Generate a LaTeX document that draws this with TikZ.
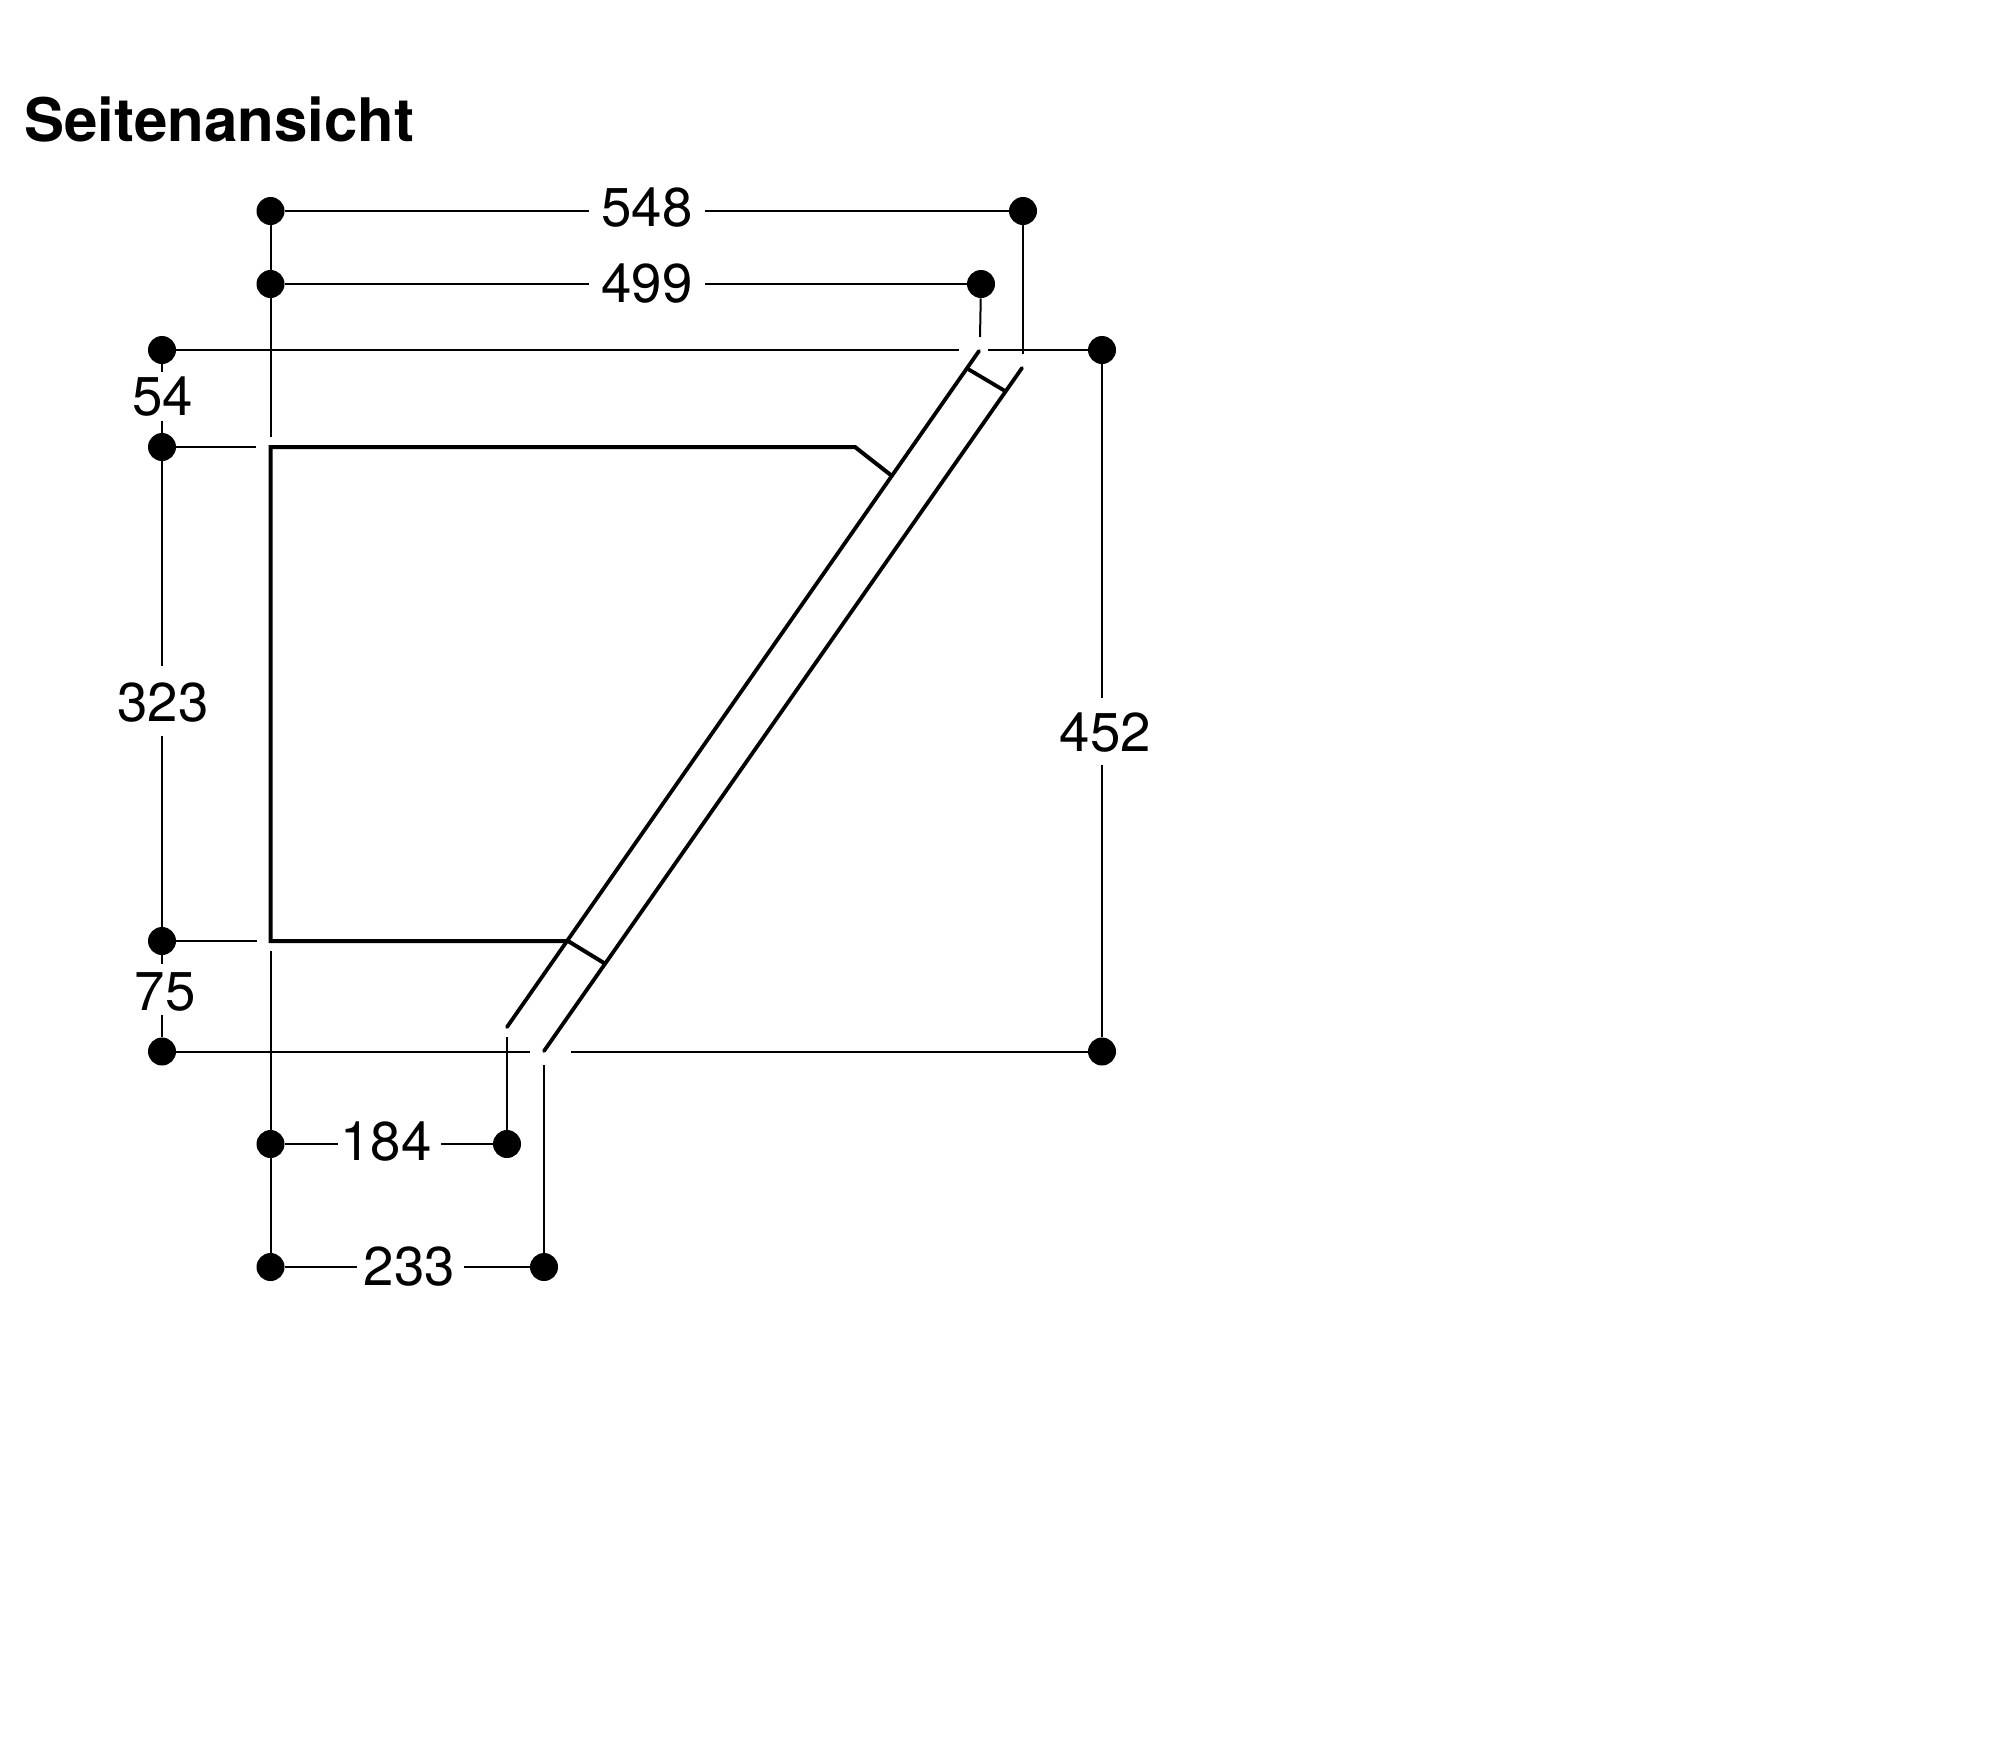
\documentclass[tikz,border=0pt]{standalone}
\usepackage{fontspec}
\setmainfont{TeX Gyre Heros}
\begin{document}
\begin{tikzpicture}[x=0.5pt,y=-0.5pt,
  dot/.style={circle,fill=black,draw=none,inner sep=0pt,minimum size=14pt},
  dim/.style={line width=1pt,black},
  outline/.style={line width=2pt,black,line join=miter},
  wall/.style={line width=1.9pt,black,line cap=round},
  val/.style={inner sep=0pt,font=\fontsize{27.3}{30}\selectfont},
  heading/.style={inner sep=0pt,anchor=base west,font=\fontsize{30}{34}\selectfont\bfseries}]
\useasboundingbox (0,0) rectangle (2000,1762);
\node[heading] (title) at (24,141) {Seitenansicht};
% dots
\node[dot] (a1) at (270.5,211) {};
\node[dot] (a2) at (1023,211) {};
\node[dot] (b1) at (270.5,284) {};
\node[dot] (b2) at (981,284) {};
\node[dot] (c1) at (162,350) {};
\node[dot] (c2) at (1102,350) {};
\node[dot] (d1) at (162,447) {};
\node[dot] (e1) at (162,941) {};
\node[dot] (f1) at (162,1051.5) {};
\node[dot] (f2) at (1102,1051.5) {};
\node[dot] (g1) at (270.5,1144) {};
\node[dot] (g2) at (507,1144) {};
\node[dot] (h1) at (270.5,1267) {};
\node[dot] (h2) at (544,1267) {};
% labels
\node[val] (l548) at (647,208) {548};
\node[val] (l499) at (647,283.5) {499};
\node[val] (l54) at (162.5,397) {54};
\node[val] (l323) at (163,703) {323};
\node[val] (l75) at (165,992) {75};
\node[val] (l452) at (1105.5,733) {452};
\node[val] (l184) at (386,1142) {184};
\node[val] (l233) at (409.5,1267) {233};
% free ends
\coordinate (a1e) at (589,211);
\coordinate (a2e) at (705,211);
\coordinate (b1e) at (589,284);
\coordinate (b2e) at (705,284);
\coordinate (c1e) at (959,350);
\coordinate (c2e) at (988,350);
\coordinate (vA) at (270.5,437);
\coordinate (vB) at (270.5,951);
\coordinate (v548) at (1023,354);
\coordinate (v499) at (980,337);
\coordinate (d1e) at (256,447);
\coordinate (e1e) at (257,941);
\coordinate (f1e) at (530,1051.5);
\coordinate (f2e) at (571,1051.5);
\coordinate (v184) at (507,1037);
\coordinate (v233) at (544,1065);
\coordinate (g1e) at (338,1144);
\coordinate (g2e) at (441,1144);
\coordinate (h1e) at (357,1267);
\coordinate (h2e) at (464,1267);
\coordinate (s54a) at (162,372);
\coordinate (s54b) at (162,421);
\coordinate (s323a) at (162,666);
\coordinate (s323b) at (162,736);
\coordinate (s75a) at (162,964);
\coordinate (s75b) at (162,1015);
\coordinate (s452a) at (1102,698);
\coordinate (s452b) at (1102,765);
% dimension lines
\draw[dim] (a1) -- (a1e);
\draw[dim] (a2e) -- (a2);
\draw[dim] (b1) -- (b1e);
\draw[dim] (b2e) -- (b2);
\draw[dim] (c1) -- (c1e);
\draw[dim] (c2e) -- (c2);
\draw[dim] (a1) -- (vA);
\draw[dim] (vB) -- (h1);
\draw[dim] (a2) -- (v548);
\draw[dim] (b2) -- (v499);
\draw[dim] (d1) -- (d1e);
\draw[dim] (e1) -- (e1e);
\draw[dim] (f1) -- (f1e);
\draw[dim] (f2e) -- (f2);
\draw[dim] (v184) -- (g2);
\draw[dim] (v233) -- (h2);
\draw[dim] (g1) -- (g1e);
\draw[dim] (g2e) -- (g2);
\draw[dim] (h1) -- (h1e);
\draw[dim] (h2e) -- (h2);
\draw[dim] (c1) -- (s54a);
\draw[dim] (s54b) -- (d1);
\draw[dim] (d1) -- (s323a);
\draw[dim] (s323b) -- (e1);
\draw[dim] (e1) -- (s75a);
\draw[dim] (s75b) -- (f1);
\draw[dim] (c2) -- (s452a);
\draw[dim] (s452b) -- (f2);
% body outline
\coordinate (p1) at (270.5,447);
\coordinate (p2) at (855,447);
\coordinate (p3) at (892,476);
\coordinate (p4) at (270.5,941);
\coordinate (p5) at (568,941);
\coordinate (p6) at (604,963);
\draw[outline] (p3) -- (p2) -- (p1) -- (p4) -- (p5) -- (p6);
% slanted walls
\coordinate (w1) at (979,351);
\coordinate (w2) at (507,1027);
\coordinate (w3) at (1022,368);
\coordinate (w4) at (544,1051);
\coordinate (t1) at (968,369);
\coordinate (t2) at (1005,391);
\draw[wall] (w1) -- (w2);
\draw[wall] (w3) -- (w4);
\draw[wall] (t1) -- (t2);
\end{tikzpicture}
\end{document}
